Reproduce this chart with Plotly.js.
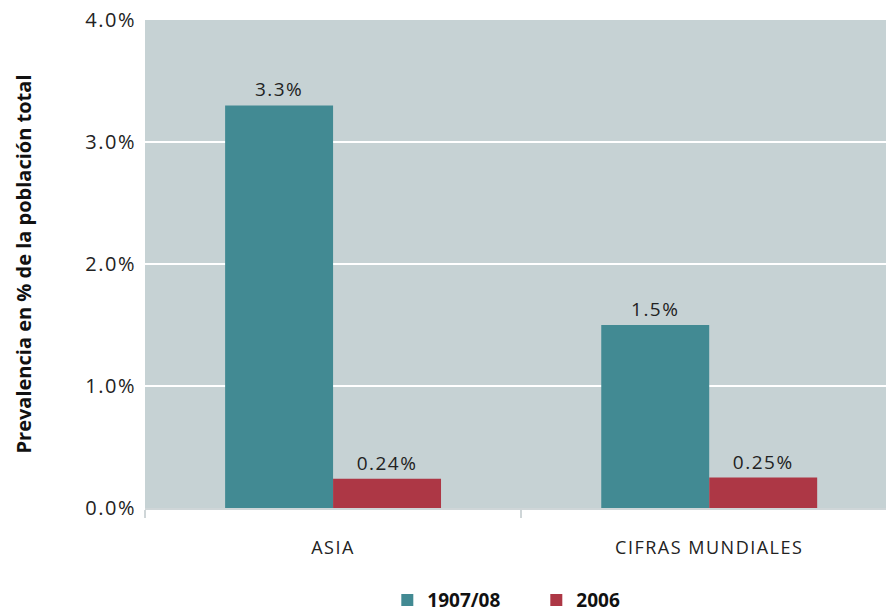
<!DOCTYPE html>
<html>
<head>
<meta charset="utf-8">
<script src="https://cdn.plot.ly/plotly-3.0.1.min.js"></script>
<style>
  body { margin: 0; background: #fff; }
  #chart { width: 886px; height: 613px; }
  .xtick text, .ytick text, text.bartext { letter-spacing: 1.5px; font-weight: 300; }
</style>
</head>
<body>
<div id="chart"></div>
<script>
// categories and values (percent of total population)
const regions = ['ASIA', 'CIFRAS MUNDIALES'];
const seriesNames = ['1907/08', '2006'];
const prev1907 = [3.3, 1.5];
const prev2006 = [0.24, 0.25];
const labels1907 = ['3.3%', '1.5%'];
const labels2006 = ['0.24%', '0.25%'];
const yTicks = [0, 1, 2, 3, 4];
const yTickText = ['0.0%', '1.0%', '2.0%', '3.0%', '4.0%'];

const FONT = 'Open Sans, Noto Sans, sans-serif';

const trace1907 = {
  x: regions,
  y: prev1907,
  name: '<b>' + seriesNames[0] + '</b>',
  type: 'bar',
  marker: { color: '#428a93' },
  text: labels1907,
  textposition: 'outside',
  textfont: { color: '#222', size: 19, family: FONT },
  cliponaxis: false,
  hoverinfo: 'none'
};

const trace2006 = {
  x: regions,
  y: prev2006,
  name: '<b>' + seriesNames[1] + '</b>',
  type: 'bar',
  marker: { color: '#ad3745' },
  text: labels2006,
  textposition: 'outside',
  textfont: { color: '#222', size: 19, family: FONT },
  cliponaxis: false,
  hoverinfo: 'none'
};

const layout = {
  width: 886,
  height: 613,
  margin: { l: 145, r: 0, t: 20, b: 105 },
  paper_bgcolor: '#ffffff',
  plot_bgcolor: '#c6d2d4',
  font: { family: FONT, color: '#222', size: 18 },
  barmode: 'group',
  bargap: 0.426,
  bargroupgap: 0,
  xaxis: {
    type: 'category',
    range: [-0.5, 1.47],
    showline: true,
    linecolor: '#cfd6d8',
    linewidth: 2,
    ticks: 'outside',
    tickson: 'boundaries',
    ticklen: 8,
    tickcolor: '#cfd6d8',
    tickwidth: 2,
    ticklabelstandoff: 22,
    tickfont: { size: 18, color: '#222', family: FONT },
    showgrid: false,
    fixedrange: true
  },
  yaxis: {
    range: [0, 4],
    tickvals: yTicks,
    ticktext: yTickText,
    showgrid: true,
    gridcolor: '#ffffff',
    gridwidth: 2,
    zeroline: false,
    ticks: '',
    ticklabelstandoff: 8,
    tickfont: { size: 20, color: '#222', family: FONT },
    title: {
      text: '<b>Prevalencia en % de la población total</b>',
      font: { size: 20, color: '#111', family: FONT },
      standoff: 48
    },
    fixedrange: true
  },
  showlegend: true,
  legend: {
    orientation: 'h',
    x: 0.327,
    xanchor: 'left',
    yref: 'container',
    y: 0.021,
    yanchor: 'middle',
    entrywidth: 104,
    font: { size: 19, color: '#111', family: FONT },
    traceorder: 'normal'
  }
};

Plotly.newPlot('chart', [trace1907, trace2006], layout, { displayModeBar: false, staticPlot: true });
</script>
</body>
</html>
